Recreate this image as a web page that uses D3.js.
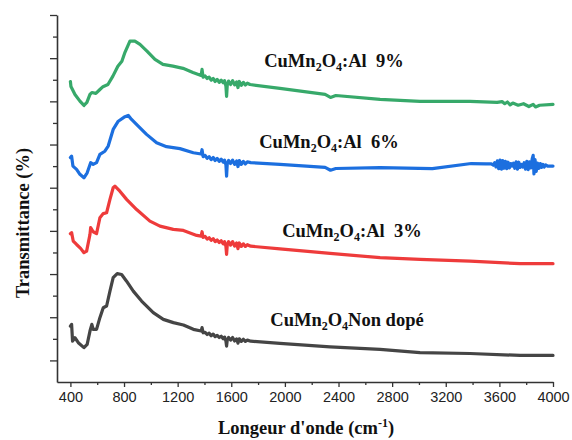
<!DOCTYPE html>
<html>
<head>
<meta charset="utf-8">
<script src="https://cdn.jsdelivr.net/npm/d3@7/dist/d3.min.js"></script>
<style>
  html, body { margin: 0; padding: 0; background: #fff; }
  svg { display: block; }
</style>
</head>
<body>
<svg id="chart" width="572" height="440"></svg>
<script>
// FTIR spectra of CuMn2O4 samples (stacked, offset transmittance)
// Each series: [wavenumber (cm-1), transmittance (offset, a.u.)]
const nonDope = [
  [400, 15.9], [409, 16.7], [416, 8.9], [434, 10.5], [459, 8.2], [501, 5.9], [525, 7.4],
  [546, 13.6], [560, 16.7], [570, 14.4], [595, 14.4], [620, 19.8], [645, 24.4], [670, 25.2],
  [695, 32.1], [719, 38.3], [749, 40.2], [782, 39.8], [819, 36.7], [869, 32.1], [931, 27.5],
  [1018, 22.1], [1093, 19.0], [1168, 17.5], [1243, 16.4], [1317, 14.4],
  [1375, 13.6], [1382, 15.2], [1390, 12.8], [1405, 13.0], [1420, 12.0], [1435, 12.6],
  [1450, 11.4], [1465, 12.2], [1480, 11.0], [1495, 11.6], [1510, 10.6], [1525, 11.2],
  [1540, 10.0], [1550, 10.8], [1560, 9.0], [1565, 6.6], [1570, 9.4], [1580, 10.6],
  [1595, 9.4], [1610, 10.6], [1625, 9.0], [1640, 10.0], [1650, 8.0], [1660, 10.0],
  [1675, 8.8], [1690, 9.8], [1705, 8.8], [1720, 9.4], [1745, 8.9],
  [1963, 7.9], [2337, 6.3], [2710, 5.1], [3008, 3.6], [3381, 3.2], [3755, 2.3], [4000, 2.3]
];
const al3 = [
  [400, 58.7], [409, 59.2], [421, 55.3], [446, 53.7], [476, 51.9], [501, 49.9], [521, 50.6],
  [546, 58.4], [551, 61.5], [570, 59.6], [595, 58.7], [620, 66.1], [645, 68.0], [670, 68.4],
  [695, 74.6], [719, 80.0], [732, 80.7], [769, 78.4], [819, 74.6], [894, 69.9], [993, 64.5],
  [1068, 62.2], [1168, 60.7], [1243, 60.2], [1342, 57.9],
  [1375, 57.6], [1382, 59.6], [1390, 57.0], [1405, 57.4], [1420, 56.2], [1435, 56.8],
  [1450, 55.6], [1465, 56.4], [1480, 55.0], [1495, 55.8], [1510, 54.6], [1525, 55.4],
  [1540, 54.0], [1550, 55.0], [1560, 52.8], [1565, 49.1], [1570, 53.4], [1580, 55.0],
  [1595, 53.4], [1610, 55.0], [1625, 53.0], [1640, 54.4], [1650, 51.8], [1660, 54.4],
  [1675, 52.8], [1690, 54.0], [1705, 52.8], [1720, 53.6], [1745, 52.9],
  [1963, 51.7], [2337, 49.6], [2710, 47.6], [3008, 46.8], [3381, 46.0], [3755, 44.8], [4000, 44.8]
];
const al6 = [
  [400, 94.0], [409, 94.6], [419, 90.0], [446, 88.5], [471, 86.2], [501, 84.6], [525, 86.9],
  [551, 91.6], [570, 90.8], [595, 91.6], [620, 95.4], [657, 96.9], [682, 99.3], [719, 107.0],
  [757, 110.8], [807, 112.9], [831, 113.5], [856, 111.6], [906, 108.5], [968, 104.7],
  [1043, 100.8], [1117, 99.0], [1217, 98.1], [1317, 96.2],
  [1375, 95.6], [1382, 97.6], [1390, 94.4], [1405, 95.0], [1420, 93.6], [1435, 94.4],
  [1450, 93.0], [1465, 94.0], [1480, 92.6], [1495, 93.6], [1510, 92.2], [1525, 93.2],
  [1540, 91.8], [1550, 92.8], [1560, 90.6], [1565, 85.4], [1570, 91.0], [1580, 92.6],
  [1595, 91.2], [1610, 92.8], [1625, 90.8], [1640, 92.4], [1650, 89.8], [1660, 92.6],
  [1675, 90.8], [1690, 92.2], [1705, 91.0], [1720, 92.0], [1745, 91.6],
  [1963, 90.8], [2300, 89.4], [2340, 88.1], [2380, 88.9], [2710, 89.3], [3100, 88.8],
  [3390, 91.2], [3500, 91.0],
  [3540, 91.0], [3555, 90.4], [3565, 91.6], [3575, 89.6], [3585, 92.4], [3595, 88.8],
  [3605, 92.8], [3615, 88.6], [3625, 92.6], [3635, 89.0], [3645, 92.2], [3655, 88.8],
  [3665, 91.8], [3675, 89.2], [3685, 91.2], [3695, 90.0], [3705, 91.4], [3715, 89.0],
  [3725, 92.0], [3735, 88.6], [3745, 91.8], [3755, 89.4], [3765, 90.8], [3775, 89.6],
  [3785, 91.6], [3795, 88.6], [3805, 92.2], [3815, 88.4], [3825, 92.0], [3835, 89.2],
  [3845, 93.4], [3852, 95.0], [3858, 86.4], [3866, 93.0], [3875, 87.6], [3885, 91.4],
  [3895, 89.0], [3905, 91.2], [3915, 89.4], [3925, 90.8], [3935, 89.6], [3945, 90.6],
  [3960, 90.0], [4000, 90.0]
];
const al9 = [
  [400, 129.2], [404, 126.9], [434, 123.2], [471, 120.1], [501, 118.1], [523, 119.5],
  [546, 123.2], [560, 124.1], [590, 123.7], [620, 125.5], [643, 126.8], [680, 127.8],
  [717, 131.7], [754, 136.3], [784, 138.6], [807, 142.7], [844, 147.9], [881, 147.9],
  [919, 146.4], [971, 143.3], [1031, 139.4], [1090, 137.1], [1165, 136.3], [1240, 135.3],
  [1314, 133.4],
  [1375, 132.0], [1382, 134.8], [1390, 131.2], [1405, 131.8], [1420, 130.6], [1435, 131.2],
  [1450, 129.8], [1465, 130.6], [1480, 129.2], [1495, 130.2], [1510, 128.8], [1525, 129.8],
  [1540, 128.6], [1550, 129.6], [1560, 127.0], [1565, 122.3], [1570, 127.4], [1580, 129.4],
  [1595, 127.8], [1610, 129.6], [1625, 127.6], [1640, 129.0], [1650, 126.4], [1660, 129.2],
  [1675, 127.4], [1690, 128.8], [1705, 127.6], [1720, 128.4], [1740, 127.8],
  [1963, 126.0], [2300, 123.2], [2340, 121.8], [2380, 122.7], [2710, 120.9], [3008, 120.0],
  [3381, 120.0], [3583, 119.5], [3620, 119.9], [3640, 118.9], [3660, 119.7], [3680, 118.4],
  [3700, 119.2], [3740, 118.2], [3780, 118.9], [3820, 117.6], [3852, 118.6], [3870, 117.4],
  [3900, 118.2], [4000, 118.6]
];

const seriesNames = ["CuMn2O4Non dopé", "CuMn2O4:Al  3%", "CuMn2O4:Al  6%", "CuMn2O4:Al  9%"];
const seriesColors = ["#454545", "#ee3b3b", "#1c6fdf", "#37a96a"];
const seriesData = [nonDope, al3, al6, al9];

const xMajorTicks = [400, 800, 1200, 1600, 2000, 2400, 2800, 3200, 3600, 4000];
const xMinorTicks = [600, 1000, 1400, 1800, 2200, 2600, 3000, 3400, 3800];
const yMajorTicks = [0, 20, 40, 60, 80, 100, 120, 140, 160];
const yMinorTicks = [10, 30, 50, 70, 90, 110, 130, 150];

// label anchor positions (centre, baseline), in data units
const labelPos = [[2463, 15.9], [2500, 57.3], [2329, 98.2], [2366, 136.1]];

const svg = d3.select("#chart");
const margin = { left: 57, right: 19, top: 15, bottom: 58 };
const W = 572, H = 440;

const x = d3.scaleLinear().domain([300, 4000]).range([margin.left, W - margin.right]);
const y = d3.scaleLinear().domain([-10, 160]).range([H - margin.bottom, margin.top]);

const axisColor = "#333";

// x axis
const gx = svg.append("g").attr("transform", `translate(0,${y(-10)})`);
gx.call(d3.axisBottom(x).tickValues(xMajorTicks).tickSize(5).tickSizeOuter(0)
  .tickPadding(5).tickFormat(d3.format("d")));
gx.append("g").call(d3.axisBottom(x).tickValues(xMinorTicks).tickSize(3).tickFormat(""));
gx.selectAll("g g path.domain").remove();
gx.selectAll("path.domain").attr("stroke", axisColor).attr("stroke-width", 1.6);
gx.selectAll("line").attr("stroke", axisColor).attr("stroke-width", 1.3);
gx.selectAll("text")
  .attr("font-family", "Liberation Sans, Arial, sans-serif")
  .attr("font-size", 14.5).attr("fill", "#222");

// y axis (no tick labels)
const gy = svg.append("g").attr("transform", `translate(${x(300)},0)`);
gy.call(d3.axisLeft(y).tickValues(yMajorTicks).tickSize(7).tickSizeOuter(0).tickFormat(""));
gy.append("g").call(d3.axisLeft(y).tickValues(yMinorTicks).tickSize(4).tickFormat(""));
gy.selectAll("g g path.domain").remove();
gy.selectAll("path.domain").attr("stroke", axisColor).attr("stroke-width", 1.6);
gy.selectAll("line").attr("stroke", axisColor).attr("stroke-width", 1.3);

// spectra
const line = d3.line().x(d => x(d[0])).y(d => y(d[1]));
svg.append("g").selectAll("path")
  .data(seriesData)
  .join("path")
  .attr("d", line)
  .attr("fill", "none")
  .attr("stroke", (d, i) => seriesColors[i])
  .attr("stroke-width", 3.2)
  .attr("stroke-linejoin", "round")
  .attr("stroke-linecap", "round");

// sample labels with chemical subscripts
const serif = "Liberation Serif, Times New Roman, serif";
seriesNames.forEach((name, i) => {
  const t = svg.append("text")
    .attr("x", x(labelPos[i][0]))
    .attr("y", y(labelPos[i][1]))
    .attr("text-anchor", "middle")
    .attr("font-family", serif)
    .attr("font-weight", "bold")
    .attr("font-size", 18.5)
    .attr("fill", "#111")
    .style("white-space", "pre");
  const rest = name.slice("CuMn2O4".length);
  t.append("tspan").text("CuMn");
  t.append("tspan").attr("font-size", 12).attr("dy", 4).text("2");
  t.append("tspan").attr("dy", -4).text("O");
  t.append("tspan").attr("font-size", 12).attr("dy", 4).text("4");
  t.append("tspan").attr("dy", -4).text(rest);
});

// axis titles
const xt = svg.append("text")
  .attr("x", 306).attr("y", 434)
  .attr("text-anchor", "middle")
  .attr("font-family", serif).attr("font-weight", "bold").attr("font-size", 18.5)
  .attr("fill", "#111");
xt.append("tspan").text("Longeur d'onde (cm");
xt.append("tspan").attr("font-size", 12).attr("dy", -7).text("-1");
xt.append("tspan").attr("dy", 7).text(")");

svg.append("text")
  .attr("transform", "translate(29,223) rotate(-90)")
  .attr("text-anchor", "middle")
  .attr("font-family", serif).attr("font-weight", "bold").attr("font-size", 18.5)
  .attr("fill", "#111")
  .text("Transmittance (%)");
</script>
</body>
</html>
